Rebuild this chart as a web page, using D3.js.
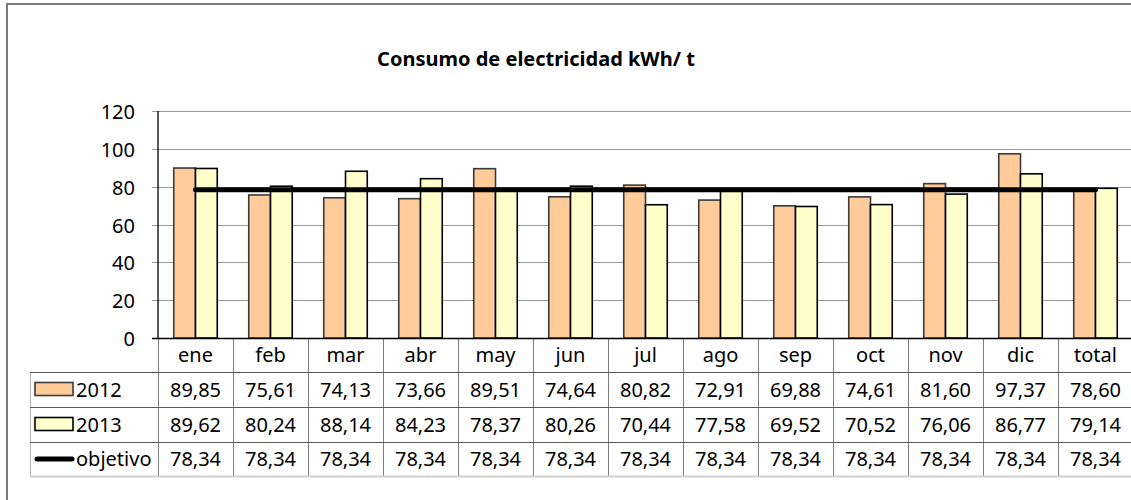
<!DOCTYPE html>
<html>
<head>
<meta charset="utf-8">
<script src="https://cdn.jsdelivr.net/npm/d3@7"></script>
<style>
  html, body { margin: 0; padding: 0; background: #fff; }
  svg { display: block; font-family: "Noto Sans", "Open Sans", sans-serif; }
</style>
</head>
<body>
<svg id="chart" width="1131" height="500"></svg>
<script>
const months = ["ene","feb","mar","abr","may","jun","jul","ago","sep","oct","nov","dic","total"];
const v2012 = [89.85,75.61,74.13,73.66,89.51,74.64,80.82,72.91,69.88,74.61,81.60,97.37,78.60];
const v2013 = [89.62,80.24,88.14,84.23,78.37,80.26,70.44,77.58,69.52,70.52,76.06,86.77,79.14];
const objetivo = [78.34,78.34,78.34,78.34,78.34,78.34,78.34,78.34,78.34,78.34,78.34,78.34,78.34];
const yTicks = [0,20,40,60,80,100,120];

const series = [
  { name: "2012", values: v2012, fill: "#ffcc99", stroke: "#3a3a3a" },
  { name: "2013", values: v2013, fill: "#ffffcc", stroke: "#000" }
];

const svg = d3.select("#chart");
const fmt = d3.formatLocale({ decimal: ",", thousands: ".", grouping: [3], currency: ["", ""] }).format(".2f");

// layout
const plotLeft = 158, plotRight = 1133;
const plotTop = 111, plotBottom = 338;
const tableLeft = 30;
const rowEdges = [338, 372, 407, 442, 476];
const fs = 20;

const x = d3.scaleBand().domain(months).range([plotLeft, plotRight]);
const xs = d3.scaleBand().domain(series.map(s => s.name)).range([0, x.bandwidth()]).paddingOuter(0.724);
const y = d3.scaleLinear().domain([0, 120]).range([plotBottom, plotTop]);

// outer chart border
svg.append("rect")
  .attr("x", 7).attr("y", 4).attr("width", 1140).attr("height", 520)
  .attr("fill", "none").attr("stroke", "#7a7a7a").attr("stroke-width", 2);

// title
svg.append("text")
  .attr("x", 536).attr("y", 66)
  .attr("text-anchor", "middle")
  .attr("font-weight", "bold").attr("font-size", 20)
  .text("Consumo de electricidad kWh/ t");

// gridlines
svg.append("g").selectAll("line")
  .data(yTicks.filter(d => d > 0))
  .join("line")
  .attr("x1", plotLeft - 6).attr("x2", plotRight)
  .attr("y1", d => Math.round(y(d)) + 0.5).attr("y2", d => Math.round(y(d)) + 0.5)
  .attr("stroke", "#999").attr("stroke-width", 1.2);

// y tick labels
svg.append("g").selectAll("text")
  .data(yTicks)
  .join("text")
  .attr("x", 135).attr("y", d => y(d) + 8)
  .attr("text-anchor", "end").attr("font-size", fs)
  .text(d => d);

// bars
const groups = svg.append("g").selectAll("g")
  .data(months)
  .join("g")
  .attr("transform", d => `translate(${x(d)},0)`);

groups.selectAll("rect")
  .data((m, i) => series.map(s => ({ s, v: s.values[i] })))
  .join("rect")
  .attr("x", d => xs(d.s.name))
  .attr("width", xs.bandwidth())
  .attr("y", d => y(d.v))
  .attr("height", d => plotBottom - y(d.v))
  .attr("fill", d => d.s.fill)
  .attr("stroke", d => d.s.stroke)
  .attr("stroke-width", 1.6);

// objetivo line
const line = d3.line()
  .x((d, i) => x(months[i]) + x.bandwidth() / 2)
  .y(d => y(d));

svg.append("path")
  .datum(objetivo)
  .attr("d", line)
  .attr("fill", "none").attr("stroke", "#000")
  .attr("stroke-width", 5).attr("stroke-linecap", "round");

// y axis
svg.append("line")
  .attr("x1", plotLeft).attr("x2", plotLeft)
  .attr("y1", plotTop).attr("y2", plotBottom)
  .attr("stroke", "#000").attr("stroke-width", 1.3);

// data table: vertical separators
const vEdges = months.map(m => x(m)).concat([plotRight]);
svg.append("g").selectAll("line")
  .data(vEdges)
  .join("line")
  .attr("x1", d => Math.round(d) + 0.5).attr("x2", d => Math.round(d) + 0.5)
  .attr("y1", rowEdges[0]).attr("y2", rowEdges[4])
  .attr("stroke", "#7f7f7f").attr("stroke-width", 1);

svg.append("line")
  .attr("x1", tableLeft + 0.5).attr("x2", tableLeft + 0.5)
  .attr("y1", rowEdges[1]).attr("y2", rowEdges[4])
  .attr("stroke", "#b0b0b0").attr("stroke-width", 1);

// horizontal separators
svg.append("g").selectAll("line")
  .data(rowEdges.slice(1, 4))
  .join("line")
  .attr("x1", tableLeft).attr("x2", plotRight)
  .attr("y1", d => d + 0.5).attr("y2", d => d + 0.5)
  .attr("stroke", "#5a5a5a").attr("stroke-width", 1);

svg.append("line")
  .attr("x1", tableLeft).attr("x2", plotRight)
  .attr("y1", rowEdges[4] + 0.5).attr("y2", rowEdges[4] + 0.5)
  .attr("stroke", "#cfcfcf").attr("stroke-width", 2);

// x axis
svg.append("line")
  .attr("x1", plotLeft - 6).attr("x2", plotRight)
  .attr("y1", plotBottom + 0.5).attr("y2", plotBottom + 0.5)
  .attr("stroke", "#000").attr("stroke-width", 1.3);

// category labels
const mid = i => (rowEdges[i] + rowEdges[i + 1]) / 2;
svg.append("g").selectAll("text")
  .data(months)
  .join("text")
  .attr("x", d => x(d) + x.bandwidth() / 2)
  .attr("y", mid(0) + 7)
  .attr("text-anchor", "middle").attr("font-size", fs)
  .text(d => d);

// value rows
const rows = [v2012, v2013, objetivo];
rows.forEach((vals, r) => {
  svg.append("g").selectAll("text")
    .data(vals)
    .join("text")
    .attr("x", (d, i) => x(months[i]) + x.bandwidth() / 2)
    .attr("y", mid(r + 1) + 7)
    .attr("text-anchor", "middle").attr("font-size", fs)
    .text(d => fmt(d));
});

// legend keys
series.forEach((s, r) => {
  const cy = mid(r + 1);
  svg.append("rect")
    .attr("x", 35).attr("y", cy - 7).attr("width", 38).attr("height", 13)
    .attr("fill", s.fill).attr("stroke", s.stroke).attr("stroke-width", 1.6);
  svg.append("text")
    .attr("x", 76).attr("y", cy + 7).attr("font-size", fs)
    .text(s.name);
});
svg.append("line")
  .attr("x1", 37).attr("x2", 72)
  .attr("y1", mid(3)).attr("y2", mid(3))
  .attr("stroke", "#000").attr("stroke-width", 5).attr("stroke-linecap", "round");
svg.append("text")
  .attr("x", 76).attr("y", mid(3) + 7).attr("font-size", fs)
  .text("objetivo");
</script>
</body>
</html>
